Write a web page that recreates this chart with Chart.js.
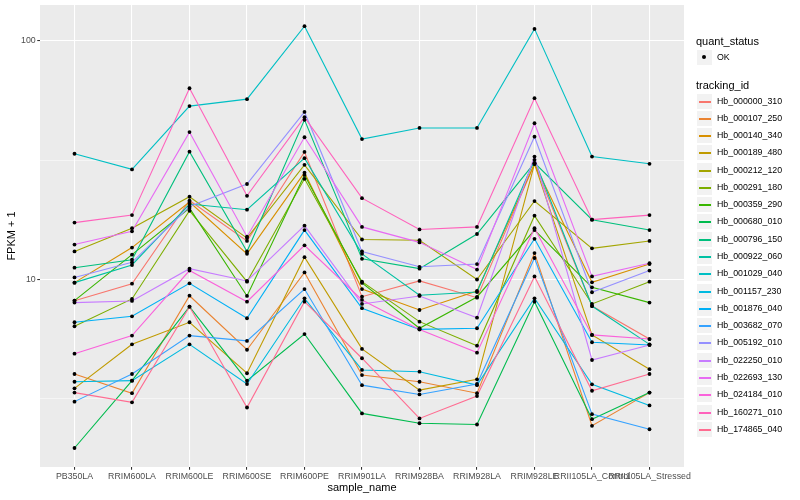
<!DOCTYPE html>
<html>
<head>
<meta charset="utf-8">
<script src="https://cdn.jsdelivr.net/npm/chart.js@4.4.1/dist/chart.umd.min.js"></script>
<style>
    html, body { margin: 0; padding: 0; background: #fff; }
    #wrap { position: relative; width: 800px; height: 500px; font-family: "Liberation Sans", Arial, sans-serif; }
    #chart { position: absolute; left: 0; top: 0; }
    .lg-title { position: absolute; left: 696px; font-size: 11px; height: 14px; line-height: 14px; color: #000; white-space: nowrap; }
    .lg-key { position: absolute; left: 696px; width: 17px; height: 17px; box-sizing: border-box; background: #F2F2F2; border: 1px solid #fff; }
    .lg-key .ln { position: absolute; left: 2px; width: 12px; top: 6.5px; height: 2px; display: block; }
    .lg-key .dot { position: absolute; left: 5px; top: 5px; width: 4px; height: 4px; border-radius: 50%; background: #000; }
    .lg-label { position: absolute; left: 717px; font-size: 8.8px; height: 17px; line-height: 17px; color: #000; white-space: nowrap; }
</style>
</head>
<body>
<div id="wrap">
    <canvas id="chart" width="800" height="500"></canvas>
    <div id="legend"></div>
</div>
<script>
// samples on the x axis
const sampleNames = ['PB350LA', 'RRIM600LA', 'RRIM600LE', 'RRIM600SE', 'RRIM600PE', 'RRIM901LA',
    'RRIM928BA', 'RRIM928LA', 'RRIM928LE', 'RRII105LA_Control', 'RRII105LA_Stressed'];

// FPKM + 1, one array per tracking id
const hb000000_310 = [8.15, 9.60, 21.4, 14.5, 34.2, 8.47, 9.86, 8.39, 30.5, 7.74, 5.63];
const hb000107_250 = [4.02, 3.34, 8.55, 5.08, 10.7, 3.98, 3.73, 3.34, 12.9, 2.44, 3.36];
const hb000140_340 = [9.70, 13.6, 21.1, 12.8, 28.0, 9.12, 7.45, 8.95, 30.5, 9.73, 11.6];
const hb000189_480 = [3.50, 5.35, 6.62, 4.05, 12.4, 5.12, 3.44, 3.82, 30.5, 5.86, 4.21];
const hb000212_120 = [13.1, 16.4, 22.2, 14.9, 30.2, 14.7, 14.6, 10.0, 21.3, 13.5, 14.5];
const hb000291_180 = [6.37, 8.29, 19.4, 9.79, 26.4, 9.79, 6.66, 5.28, 18.5, 7.90, 9.79];
const hb000359_290 = [8.15, 12.7, 19.9, 8.53, 27.4, 9.67, 6.25, 8.45, 16.1, 9.27, 8.00];
const hb000680_010 = [1.97, 3.77, 7.69, 3.77, 5.91, 2.75, 2.50, 2.47, 8.07, 2.60, 3.36];
const hb000796_150 = [11.2, 12.1, 34.3, 13.1, 46.6, 12.2, 11.1, 15.5, 30.8, 17.8, 16.1];
const hb000922_060 = [9.70, 11.5, 20.7, 19.6, 32.2, 12.8, 8.59, 8.86, 31.7, 7.74, 5.35];
const hb001029_040 = [33.6, 28.9, 53.2, 56.9, 115, 38.7, 43.1, 43.1, 112, 32.7, 30.5];
const hb001157_230 = [3.73, 3.77, 5.35, 3.65, 8.34, 4.18, 4.11, 3.61, 8.34, 3.64, 2.97];
const hb001876_040 = [6.62, 7.01, 9.64, 6.88, 16.1, 7.58, 6.18, 6.25, 14.8, 5.46, 5.32];
const hb003682_070 = [3.08, 4.02, 5.82, 5.53, 9.12, 3.61, 3.30, 3.65, 12.3, 2.73, 2.36];
const hb005192_010 = [10.2, 11.8, 20.2, 25.1, 50.3, 13.1, 11.3, 11.6, 39.6, 8.84, 10.9];
const hb022250_010 = [8.00, 8.13, 11.1, 9.86, 16.8, 7.90, 8.53, 6.92, 32.7, 4.60, 5.32];
const hb022693_130 = [14.0, 15.9, 41.4, 15.1, 39.4, 16.6, 14.3, 11.0, 45.1, 10.3, 11.7];
const hb024184_010 = [4.89, 5.82, 10.9, 8.07, 13.9, 8.21, 6.18, 4.94, 16.4, 5.86, 5.63];
const hb160271_010 = [17.3, 18.6, 63.2, 22.4, 47.8, 21.9, 16.2, 16.6, 57.4, 17.8, 18.6];
const hb174865_040 = [3.36, 3.06, 7.69, 2.91, 8.07, 4.68, 2.62, 3.25, 10.3, 3.42, 4.02];

const trackingIds = ['Hb_000000_310', 'Hb_000107_250', 'Hb_000140_340', 'Hb_000189_480', 'Hb_000212_120',
    'Hb_000291_180', 'Hb_000359_290', 'Hb_000680_010', 'Hb_000796_150', 'Hb_000922_060',
    'Hb_001029_040', 'Hb_001157_230', 'Hb_001876_040', 'Hb_003682_070', 'Hb_005192_010',
    'Hb_022250_010', 'Hb_022693_130', 'Hb_024184_010', 'Hb_160271_010', 'Hb_174865_040'];

const seriesValues = [hb000000_310, hb000107_250, hb000140_340, hb000189_480, hb000212_120,
    hb000291_180, hb000359_290, hb000680_010, hb000796_150, hb000922_060,
    hb001029_040, hb001157_230, hb001876_040, hb003682_070, hb005192_010,
    hb022250_010, hb022693_130, hb024184_010, hb160271_010, hb174865_040];

const yBreaks = [3.1623, 10, 31.623, 100];

// ggplot2 default hue palette for 20 groups
const hueColors = ['#F8766D', '#EA8331', '#D89000', '#C09B00', '#A3A500', '#7CAE00', '#39B600', '#00BB4E',
    '#00BF7D', '#00C1A3', '#00BFC4', '#00BAE0', '#00B0F6', '#35A2FF', '#9590FF', '#C77CFF',
    '#E76BF3', '#FA62DB', '#FF62BC', '#FF6C91'];

const FONT = '"Liberation Sans", Arial, sans-serif';
const isMajor = (v) => Math.abs(Math.log10(v) - Math.round(Math.log10(v))) < 1e-6;

const panelBg = {
    id: 'panelBg',
    beforeDraw(chart) {
        const { ctx, chartArea: a } = chart;
        ctx.save();
        ctx.fillStyle = '#EBEBEB';
        ctx.fillRect(a.left, a.top, a.right - a.left, a.bottom - a.top);
        ctx.restore();
    },
};

function renderLegend() {
    const root = document.getElementById('legend');
    let html = '<div class="lg-title" style="top:34px">quant_status</div>'
        + '<div class="lg-key" style="top:49px"><span class="dot"></span></div>'
        + '<div class="lg-label" style="top:49px">OK</div>'
        + '<div class="lg-title" style="top:78px">tracking_id</div>';
    trackingIds.forEach((id, i) => {
        const top = Math.round(92.5 + 17.28 * i);
        html += `<div class="lg-key" style="top:${top}px"><span class="ln" style="background-color:${hueColors[i]}"></span></div>`
            + `<div class="lg-label" style="top:${top}px">${id}</div>`;
    });
    root.innerHTML = html;
}

function renderChart() {
    const lineSets = seriesValues.map((vals, i) => ({
        label: trackingIds[i],
        data: vals.map((v, j) => ({ x: j, y: v })),
        borderColor: hueColors[i],
        borderWidth: 1.1,
        pointRadius: 0,
        tension: 0,
        fill: false,
        order: seriesValues.length - i,
    }));
    const pointSet = {
        label: 'OK',
        data: seriesValues.flatMap((vals) => vals.map((v, j) => ({ x: j, y: v }))),
        showLine: false,
        pointRadius: 1.9,
        pointBackgroundColor: '#000',
        pointBorderWidth: 0,
        order: 0,
    };

    new Chart(document.getElementById('chart'), {
        type: 'line',
        data: { datasets: [...lineSets, pointSet] },
        plugins: [panelBg],
        options: {
            responsive: false,
            animation: false,
            layout: { padding: { top: 5, right: 116, bottom: 0, left: 0 } },
            plugins: { legend: { display: false }, tooltip: { enabled: false } },
            scales: {
                x: {
                    type: 'linear',
                    min: -0.6,
                    max: sampleNames.length - 0.4,
                    bounds: 'data',
                    afterBuildTicks: (s) => { s.ticks = sampleNames.map((_, i) => ({ value: i })); },
                    afterFit: (s) => { s.height = 33; s.paddingLeft = 0; s.paddingRight = 0; },
                    grid: { color: '#fff', lineWidth: 1.07, tickColor: '#333', tickLength: 2.75 },
                    border: { display: false },
                    ticks: {
                        autoSkip: false, maxRotation: 0, minRotation: 0, padding: 1.5,
                        color: '#4D4D4D', font: { family: FONT, size: 8.8 },
                        callback: (v) => sampleNames[v] ?? '',
                    },
                    title: {
                        display: true, text: 'sample_name', color: '#000',
                        font: { family: FONT, size: 11 }, padding: { top: 0, bottom: 5.4 },
                    },
                },
                y: {
                    type: 'logarithmic',
                    min: 1.64,
                    max: 141,
                    bounds: 'data',
                    afterBuildTicks: (s) => { s.ticks = yBreaks.map((v) => ({ value: v })); },
                    afterFit: (s) => { s.width = 40; s.paddingTop = 0; s.paddingBottom = 0; },
                    grid: {
                        color: '#fff',
                        lineWidth: (c) => (c.tick && isMajor(c.tick.value) ? 1.07 : 0.53),
                        tickColor: (c) => (c.tick && isMajor(c.tick.value) ? '#333' : 'rgba(0,0,0,0)'),
                        tickLength: 2.75,
                    },
                    border: { display: false },
                    ticks: {
                        padding: 1.5, color: '#4D4D4D', font: { family: FONT, size: 8.8 },
                        callback: (v) => (isMajor(v) ? String(Math.round(v)) : ''),
                    },
                    title: {
                        display: true, text: 'FPKM + 1', color: '#000',
                        font: { family: FONT, size: 11 }, padding: { top: 5.4, bottom: 0 },
                    },
                },
            },
        },
    });
}

document.addEventListener('DOMContentLoaded', () => {
    renderLegend();
    renderChart();
});
</script>
</body>
</html>
